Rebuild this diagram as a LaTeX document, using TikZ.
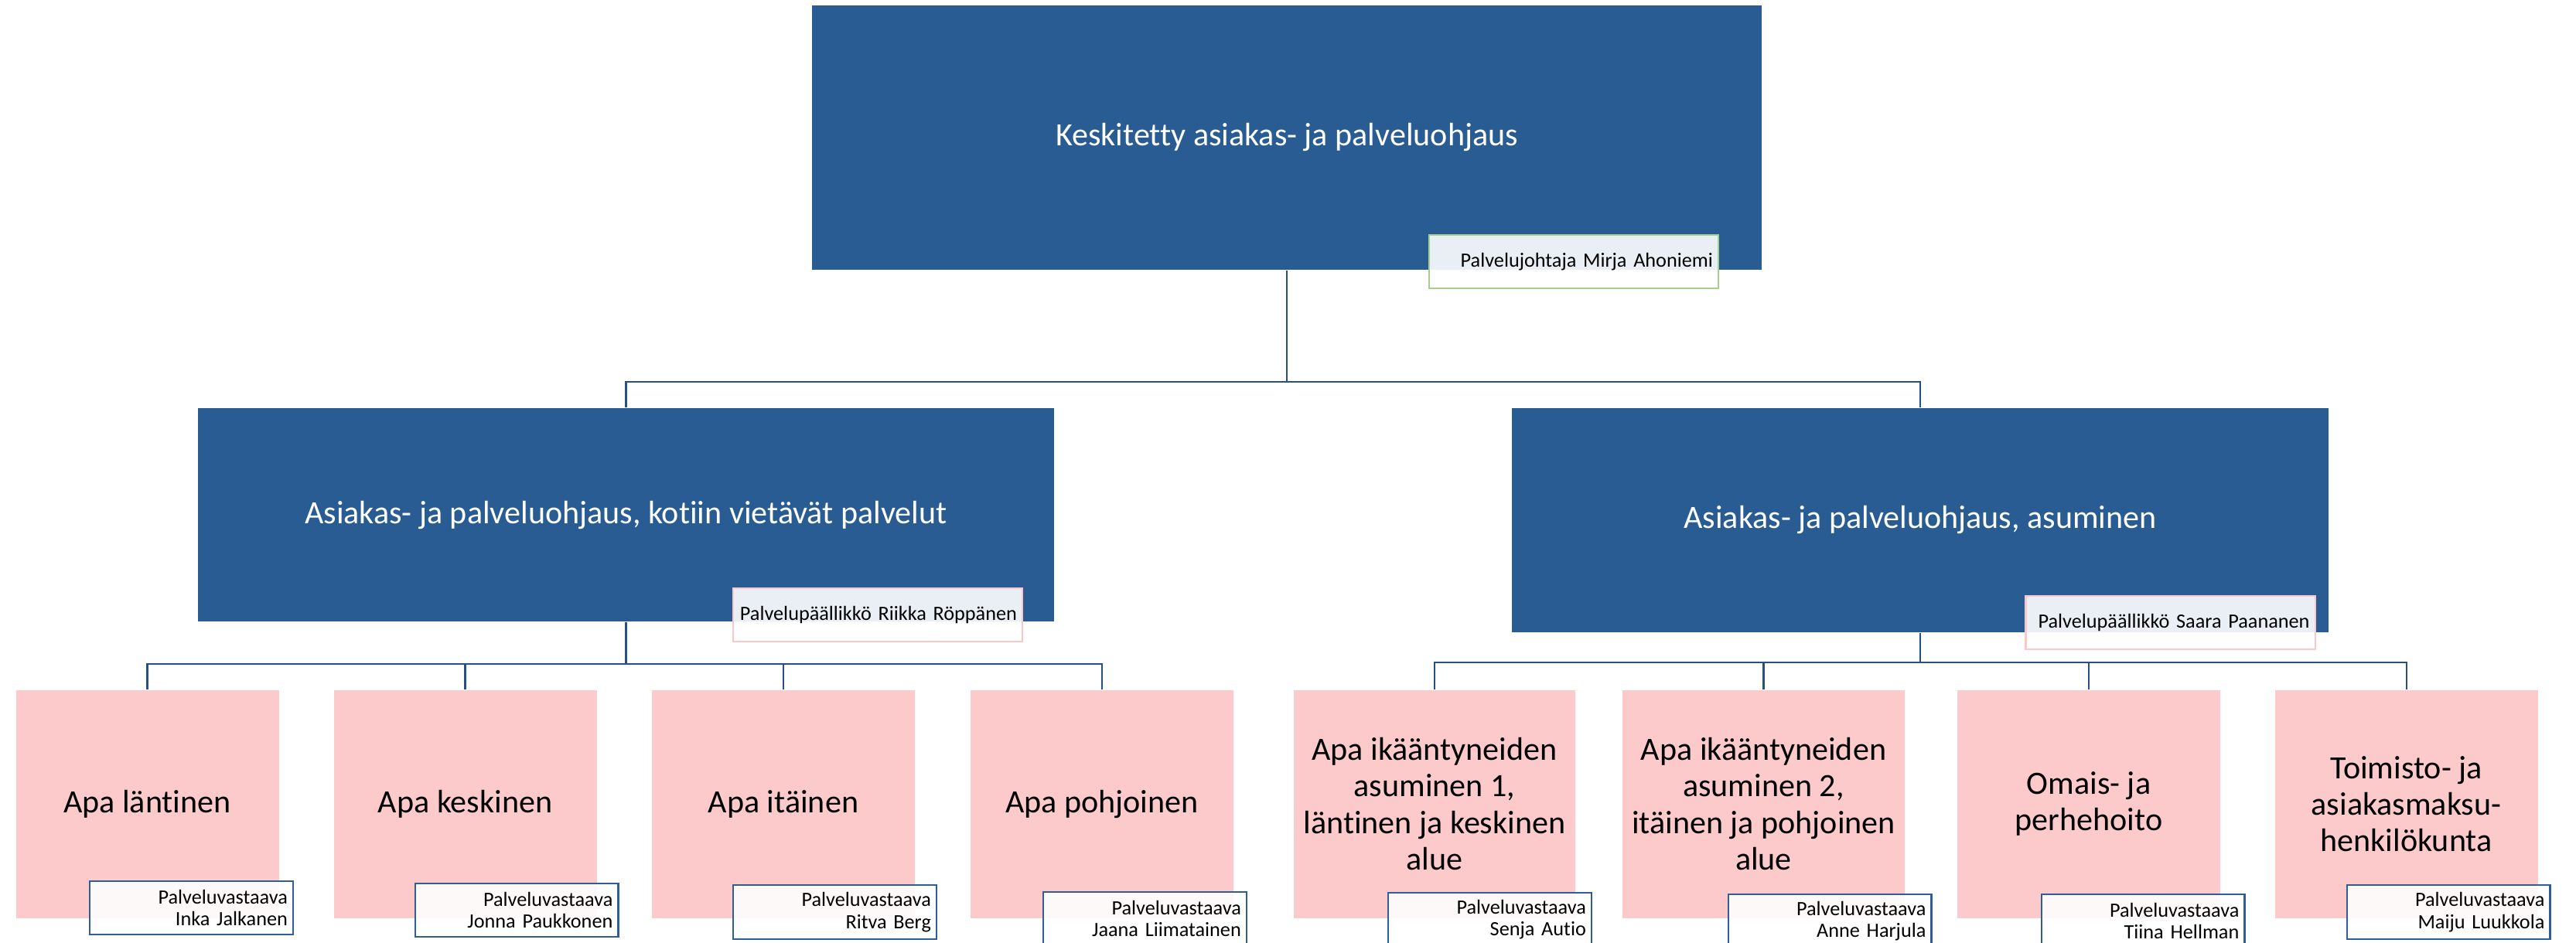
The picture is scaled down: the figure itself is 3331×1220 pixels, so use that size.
\documentclass[tikz,border=0pt]{standalone}
\usepackage{fontspec}
\setmainfont{Carlito}[Ligatures={NoCommon}]
\definecolor{navy}{RGB}{40,92,147}
\definecolor{rose}{RGB}{252,202,202}
\definecolor{linkblue}{RGB}{37,80,130}
\definecolor{tagblue}{RGB}{47,94,151}
\definecolor{leafgreen}{RGB}{168,208,141}
\definecolor{rosebord}{RGB}{250,200,202}
\tikzset{
  unitbox/.style={fill=navy, text=white, inner sep=0pt, align=center,
    font=\fontsize{10.1}{11.3}\selectfont},
  teambox/.style={fill=rose, text=black, inner sep=0pt, align=center,
    minimum height=70.8pt, font=\fontsize{10.1}{11.3}\selectfont},
  headbox/.style={draw, line width=0.5pt, fill=white, fill opacity=0.9, text opacity=1,
    inner xsep=1.7pt, inner ysep=0pt, text width=86.4pt, align=right,
    minimum height=16.6pt, font=\fontsize{6.3}{6.8}\selectfont},
  namebox/.style={draw=tagblue, line width=0.5pt, fill=white, fill opacity=0.9, text opacity=1,
    inner xsep=1.7pt, inner ysep=0pt, text width=59.7pt, align=right,
    minimum height=16.6pt, font=\fontsize{6.3}{6.8}\selectfont},
  link/.style={draw=linkblue, line width=0.5pt}
}
\begin{document}
\begin{tikzpicture}[x=0.24pt, y=-0.24pt]
  \useasboundingbox (0,0) rectangle (3331,1220);
  % ylin taso
  \node[unitbox, minimum width=294.7pt, minimum height=82.1pt] (top) at (1664,178) {Keskitetty asiakas- ja palveluohjaus};
  % palvelualueet
  \node[unitbox, minimum width=265.7pt, minimum height=66.2pt] (koti) at (809.5,666) {Asiakas- ja palveluohjaus, kotiin vietävät palvelut};
  \node[unitbox, minimum width=253.4pt, minimum height=69.6pt] (asum) at (2483,673) {Asiakas- ja palveluohjaus, asuminen};
  % tiimit
  \node[teambox, minimum width=81.6pt] (lantinen) at (190.5,1040) {Apa läntinen};
  \node[teambox, minimum width=81.6pt] (keskinen) at (601.5,1040) {Apa keskinen};
  \node[teambox, minimum width=81.6pt] (itainen) at (1013,1040) {Apa itäinen};
  \node[teambox, minimum width=81.6pt] (pohjoinen) at (1425,1040) {Apa pohjoinen};
  \node[teambox, minimum width=87.4pt] (asum1) at (1855,1040) {Apa ikääntyneiden\\asuminen 1,\\läntinen ja keskinen\\alue};
  \node[teambox, minimum width=87.4pt] (asum2) at (2280.5,1040) {Apa ikääntyneiden\\asuminen 2,\\itäinen ja pohjoinen\\alue};
  \node[teambox, minimum width=81.6pt] (omais) at (2701,1040) {Omais- ja\\perhehoito};
  \node[teambox, minimum width=81.6pt] (toimisto) at (3111.5,1040) {Toimisto- ja\\asiakasmaksu-\\henkilökunta};
  % yhdysviivat
  \draw[link] (top.south) -- ++(0,144) -| (koti.north);
  \draw[link] (top.south) -- ++(0,144) -| (asum.north);
  \foreach \t in {lantinen, keskinen, itainen, pohjoinen}
    \draw[link] (koti.south) -- ++(0,54) -| (\t.north);
  \foreach \t in {asum1, asum2, omais, toimisto}
    \draw[link] (asum.south) -- ++(0,38) -| (\t.north);
  % esihenkilöt
  \node[headbox, draw=leafgreen] (mtop) at (2035,338.5) {Palvelujohtaja Mirja Ahoniemi};
  \node[headbox, draw=rosebord] (mkoti) at (1135,795.5) {Palvelupäällikkö Riikka Röppänen};
  \node[headbox, draw=rosebord] (masum) at (2806.5,805.5) {Palvelupäällikkö Saara Paananen};
  \node[namebox] (nlantinen) at (247.5,1174.5) {Palveluvastaava\\Inka Jalkanen};
  \node[namebox] (nkeskinen) at (668,1177.5) {Palveluvastaava\\Jonna Paukkonen};
  \node[namebox] (nitainen) at (1079.5,1180) {Palveluvastaava\\Ritva Berg};
  \node[namebox] (npohjoinen) at (1480.5,1188.5) {Palveluvastaava\\Jaana Liimatainen};
  \node[namebox] (nasum1) at (1926.5,1189.5) {Palveluvastaava\\Senja Autio};
  \node[namebox] (nasum2) at (2366,1191.5) {Palveluvastaava\\Anne Harjula};
  \node[namebox] (nomais) at (2771,1191.5) {Palveluvastaava\\Tiina Hellman};
  \node[namebox] (ntoimisto) at (3166,1180) {Palveluvastaava\\Maiju Luukkola};
\end{tikzpicture}
\end{document}
